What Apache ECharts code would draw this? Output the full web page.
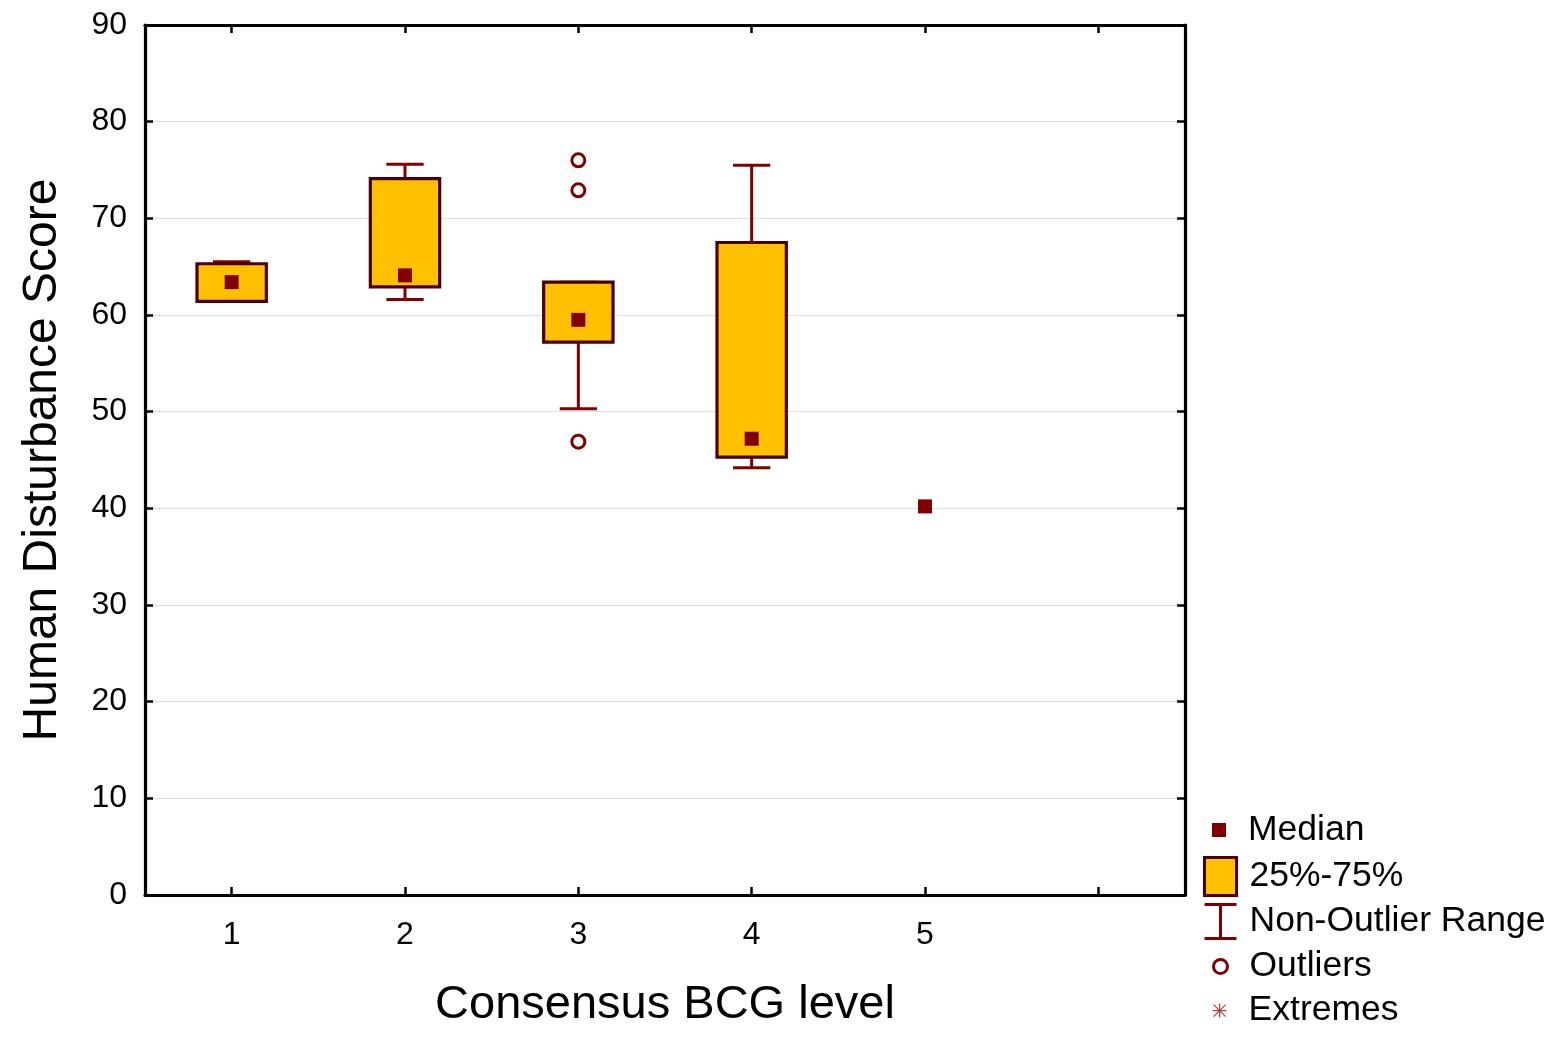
<!DOCTYPE html>
<html>
<head>
<meta charset="utf-8">
<script src="https://cdn.jsdelivr.net/npm/echarts@6/dist/echarts.min.js"></script>
<style>
  html, body { margin: 0; padding: 0; background: #fff; }
  #chart { width: 1564px; height: 1038px; }
</style>
</head>
<body>
<div id="chart"></div>
<script>
// BCG levels (6th slot is an empty band, as in the original plot)
var categories = ['1', '2', '3', '4', '5', ''];
// 25%-75% box, null where a group has no box
var q1 = [61.4, 62.9, 57.2, 45.3, null, null];
var q3 = [65.3, 74.1, 63.4, 67.5, null, null];
// non-outlier range
var whiskerMin = [61.4, 61.6, 50.3, 44.2, null, null];
var whiskerMax = [65.5, 75.6, 63.4, 75.5, null, null];
var medians = [63.4, 64.1, 59.5, 47.2, 40.2, null];
// outliers: [category index, value]
var outliers = [[2, 76.0], [2, 72.9], [2, 46.9]];
var extremes = [];
var yTicks = [0, 10, 20, 30, 40, 50, 60, 70, 80, 90];

var DARK = '#800000';
var BORDER = '#4a0000';
var GOLD = '#FFC000';
var FONT = 'Liberation Sans, Arial, sans-serif';

var boxData = [];
var whiskerData = [];
var medianData = [];
categories.forEach(function (c, i) {
    if (q1[i] != null) boxData.push([i, q1[i], q3[i]]);
    if (whiskerMin[i] != null) whiskerData.push([i, whiskerMin[i], q1[i], q3[i], whiskerMax[i]]);
    if (medians[i] != null) medianData.push([i, medians[i]]);
});

var chart = echarts.init(document.getElementById('chart'));

function legendBox(name, top, icon, style) {
    return {
        data: [{ name: name, icon: icon, itemStyle: style }],
        orient: 'vertical',
        left: 1203,
        top: top,
        padding: 0,
        itemWidth: 32,
        itemHeight: 38,
        selectedMode: false,
        symbolKeepAspect: true,
        textStyle: { fontFamily: FONT, fontSize: 35.5, color: '#000', padding: [0, 0, 0, 8] }
    };
}

var axisText = { fontFamily: FONT, fontSize: 32, color: '#000' };
var tickStyle = { show: true, inside: true, length: 8, lineStyle: { color: '#000', width: 2.5 } };
var frameLine = { show: true, onZero: false, lineStyle: { color: '#000', width: 3.2 } };

chart.setOption({
    animation: false,
    backgroundColor: '#fff',
    grid: { left: 145, right: 379, top: 25, bottom: 143, outerBoundsMode: 'none', containLabel: false },
    legend: [
        legendBox('Median', 811, 'path://M0,0M32,38M9,12h14v14h-14z', { color: DARK, borderWidth: 0 }),
        legendBox('25%-75%', 856, 'rect', { color: GOLD, borderColor: BORDER, borderWidth: 3 }),
        legendBox('Non-Outlier Range', 901, 'path://M0,0M32,38M0,2h32M16,2v34M0,36h32', { color: 'rgba(0,0,0,0)', borderColor: DARK, borderWidth: 3 }),
        legendBox('Outliers', 946, 'path://M0,0M32,38M9,19a7,7 0 1,0 14,0a7,7 0 1,0 -14,0z', { color: 'rgba(0,0,0,0)', borderColor: DARK, borderWidth: 3 }),
        legendBox('Extremes', 991, 'path://M0,0M32,38M10,13L22,25M22,13L10,25M16,12v14M9,19h14', { color: 'rgba(0,0,0,0)', borderColor: '#a01010', borderWidth: 1.2 })
    ],
    xAxis: [{
        type: 'category',
        data: categories,
        position: 'bottom',
        name: 'Consensus BCG level',
        nameLocation: 'middle',
        nameGap: 87,
        nameTextStyle: { fontFamily: FONT, fontSize: 47, color: '#000' },
        axisLine: frameLine,
        axisTick: Object.assign({ alignWithLabel: true }, tickStyle),
        axisLabel: Object.assign({ margin: 24 }, axisText),
        splitLine: { show: false }
    }, {
        type: 'category',
        data: categories,
        position: 'top',
        axisLine: frameLine,
        axisTick: Object.assign({ alignWithLabel: true }, tickStyle),
        axisLabel: { show: false },
        splitLine: { show: false }
    }],
    yAxis: [{
        type: 'value',
        min: yTicks[0],
        max: yTicks[yTicks.length - 1],
        interval: 10,
        position: 'left',
        name: 'Human Disturbance Score',
        nameLocation: 'middle',
        nameGap: 78,
        nameTextStyle: { fontFamily: FONT, fontSize: 48, color: '#000' },
        axisLine: frameLine,
        axisTick: tickStyle,
        axisLabel: Object.assign({ margin: 18 }, axisText),
        splitLine: { show: true, lineStyle: { color: '#dedede', width: 1 } }
    }, {
        type: 'value',
        min: yTicks[0],
        max: yTicks[yTicks.length - 1],
        interval: 10,
        position: 'right',
        axisLine: frameLine,
        axisTick: tickStyle,
        axisLabel: { show: false },
        splitLine: { show: false }
    }],
    series: [{
        name: 'Non-Outlier Range',
        type: 'custom',
        data: whiskerData,
        encode: { x: 0, y: [1, 4] },
        renderItem: function (params, api) {
            var x = api.value(0);
            var lo = api.coord([x, api.value(1)]);
            var b1 = api.coord([x, api.value(2)]);
            var b3 = api.coord([x, api.value(3)]);
            var hi = api.coord([x, api.value(4)]);
            var cw = api.size([1, 0])[0] * 0.215 / 2;
            var st = { stroke: DARK, lineWidth: 3 };
            return {
                type: 'group',
                children: [
                    { type: 'line', shape: { x1: lo[0], y1: lo[1], x2: b1[0], y2: b1[1] }, style: st },
                    { type: 'line', shape: { x1: b3[0], y1: b3[1], x2: hi[0], y2: hi[1] }, style: st },
                    { type: 'line', shape: { x1: lo[0] - cw, y1: lo[1], x2: lo[0] + cw, y2: lo[1] }, style: st },
                    { type: 'line', shape: { x1: hi[0] - cw, y1: hi[1], x2: hi[0] + cw, y2: hi[1] }, style: st }
                ]
            };
        }
    }, {
        name: '25%-75%',
        type: 'custom',
        data: boxData,
        encode: { x: 0, y: [1, 2] },
        renderItem: function (params, api) {
            var x = api.value(0);
            var top = api.coord([x, api.value(2)]);
            var bot = api.coord([x, api.value(1)]);
            var w = api.size([1, 0])[0] * 0.4;
            return {
                type: 'rect',
                shape: { x: top[0] - w / 2, y: top[1], width: w, height: bot[1] - top[1] },
                style: { fill: GOLD, stroke: BORDER, lineWidth: 3.2 }
            };
        }
    }, {
        name: 'Median',
        type: 'scatter',
        data: medianData,
        symbol: 'rect',
        symbolSize: 14,
        itemStyle: { color: DARK, opacity: 1 }
    }, {
        name: 'Outliers',
        type: 'scatter',
        data: outliers,
        symbol: 'circle',
        symbolSize: 13,
        itemStyle: { color: '#fff', borderColor: DARK, borderWidth: 3, opacity: 1 }
    }, {
        name: 'Extremes',
        type: 'scatter',
        data: extremes,
        symbol: 'circle',
        itemStyle: { color: DARK }
    }]
});
</script>
</body>
</html>
